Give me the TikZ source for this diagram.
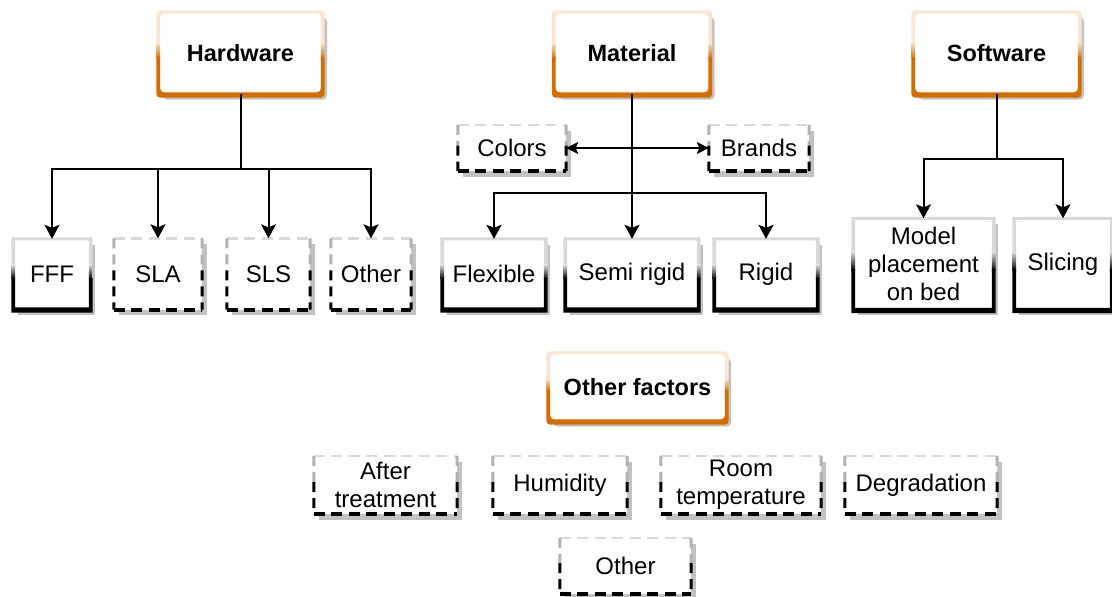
\documentclass[tikz,border=0pt]{standalone}
\usepackage{fontspec}
\setmainfont{Liberation Sans}
\usetikzlibrary{arrows.meta,shadows,calc}

\definecolor{frameorange}{HTML}{D46C00}
\definecolor{frameorangelight}{HTML}{FBE6D2}
\definecolor{framegreylight}{gray}{0.85}
\definecolor{shadowgrey}{gray}{0.76}

\tikzset{
  wh/.style 2 args={minimum width=#1pt, minimum height=#2pt},
  boxbase/.style={fill=white, inner sep=0pt, align=center, text=black,
    font=\fontsize{24}{28}\selectfont,
    drop shadow={shadow xshift=4.5pt, shadow yshift=-5.5pt, fill=shadowgrey, opacity=1}},
  headbox/.style={boxbase, rounded corners=4pt,
    font=\fontsize{23.5}{28}\selectfont\bfseries},
  solidbox/.style={boxbase},
  dashbox/.style={boxbase},
  link/.style={line width=2pt, draw=black},
  arr/.style={link, -{Stealth[length=14pt, width=15pt, inset=3pt]}},
  dblarr/.style={link, {Stealth[length=12pt, width=12pt, inset=2.5pt]}-{Stealth[length=12pt, width=12pt, inset=2.5pt]}},
  dashedge/.style={dash pattern=on 11pt off 6.5pt},
  sidedash/.style={dash pattern=on 10pt off 6pt},
}

% Frame whose colour runs from light at the top to dark at the bottom,
% with a heavier bottom edge.  #1 node, #2 light, #3 dark, #4 corner style
\newcommand{\glassframe}[4]{%
  \begin{scope}[#4, even odd rule]
    \clip
      ($(#1.north west)+(-2pt,1.5pt)$) rectangle ($(#1.south east)+(2pt,-3.5pt)$)
      ($(#1.north west)+(1.8pt,-1.5pt)$) rectangle ($(#1.south east)+(-1.8pt,1.8pt)$);
    \fill[#2] ($(#1.north west)+(-4pt,4pt)$) rectangle ($(#1.north east)!0.39!(#1.south east)+(4pt,0pt)$);
    \shade[top color=#2, bottom color=#3] ($(#1.north west)!0.37!(#1.south west)+(-4pt,0pt)$) rectangle ($(#1.north east)!0.57!(#1.south east)+(4pt,0pt)$);
    \fill[#3] ($(#1.north west)!0.55!(#1.south west)+(-4pt,0pt)$) rectangle ($(#1.south east)+(4pt,-5pt)$);
  \end{scope}}

% Dashed frame: pale top, sides pale above and black below, heavy bottom
\newcommand{\dashframe}[1]{%
  \draw[framegreylight, line width=2.4pt, dashedge] (#1.north west) -- (#1.north east);
  \draw[black!30, line width=3pt, sidedash] (#1.north west) -- ($(#1.north west)!0.45!(#1.south west)$);
  \draw[black, line width=3pt, sidedash] ($(#1.north west)!0.45!(#1.south west)$) -- (#1.south west);
  \draw[black!30, line width=3pt, sidedash] (#1.north east) -- ($(#1.north east)!0.45!(#1.south east)$);
  \draw[black, line width=3pt, sidedash] ($(#1.north east)!0.45!(#1.south east)$) -- (#1.south east);
  \draw[black, line width=4.4pt, dashedge] (#1.south west) -- (#1.south east);}

\begin{document}
\begin{tikzpicture}[x=1pt, y=-1pt]
  \useasboundingbox (0,0) rectangle (1112,597);

  % group headings
  \node[headbox, wh={164}{82}] (hw)  at (240.5,53) {Hardware};
  \node[headbox, wh={156}{82}] (mat) at (632,53)   {Material};
  \node[headbox, wh={166}{82}] (sw)  at (996.5,53) {Software};
  \node[headbox, wh={178}{68}] (of)  at (637.5,387) {Other factors};

  % hardware
  \node[solidbox, wh={77}{70}] (fff)  at (52,274)    {FFF};
  \node[dashbox,  wh={88}{71}] (sla)  at (158,274)   {SLA};
  \node[dashbox,  wh={83}{71}] (sls)  at (268.5,274) {SLS};
  \node[dashbox,  wh={80}{71}] (oth1) at (371,274)   {Other};

  % material
  \node[dashbox,  wh={108}{46}] (colors) at (512,148) {Colors};
  \node[dashbox,  wh={100}{46}] (brands) at (759,148) {Brands};
  \node[solidbox, wh={103}{70}] (flex)  at (494,274) {Flexible};
  \node[solidbox, wh={133}{70}] (semi)  at (632,274) {Semi rigid};
  \node[solidbox, wh={103}{70}] (rigid) at (766,274) {Rigid};

  % software
  \node[solidbox, wh={140}{91}] (model) at (923.5,264) {Model\\placement\\on bed};
  \node[solidbox, wh={97}{91}]  (slic)  at (1063,264)  {Slicing};

  % other factors
  \node[dashbox, wh={143}{58}] (aft)  at (385.5,485) {After\\treatment};
  \node[dashbox, wh={134}{58}] (hum)  at (560,485)   {Humidity};
  \node[dashbox, wh={160}{58}] (room) at (741,485)   {Room\\temperature};
  \node[dashbox, wh={152}{58}] (deg)  at (921,485)   {Degradation};
  \node[dashbox, wh={131}{56}] (oth2) at (625.5,566) {Other};

  % frames
  \foreach \n in {hw,mat,sw,of}
    \glassframe{\n}{frameorangelight}{frameorange}{rounded corners=4pt};
  \foreach \n in {fff,flex,semi,rigid,model,slic}
    \glassframe{\n}{framegreylight}{black}{sharp corners};
  \foreach \n in {sla,sls,oth1,colors,brands,aft,hum,room,deg,oth2}
    \dashframe{\n};

  % connectors
  \coordinate (hwj) at (240.5,169);
  \draw[link] (hw.south) -- (hwj);
  \draw[arr] (hwj) -| (fff.north);
  \draw[arr] (hwj) -| (sla.north);
  \draw[arr] (hwj) -| (sls.north);
  \draw[arr] (hwj) -| (oth1.north);

  \coordinate (matj) at (632,193);
  \draw[arr] (mat.south) -- (semi.north);
  \draw[arr] (matj) -| (flex.north);
  \draw[arr] (matj) -| (rigid.north);
  \draw[dblarr] (colors.east) -- (brands.west);

  \coordinate (swj) at (996.5,159);
  \draw[link] (sw.south) -- (swj);
  \draw[arr] (swj) -| (model.north);
  \draw[arr] (swj) -| (slic.north);
\end{tikzpicture}
\end{document}
